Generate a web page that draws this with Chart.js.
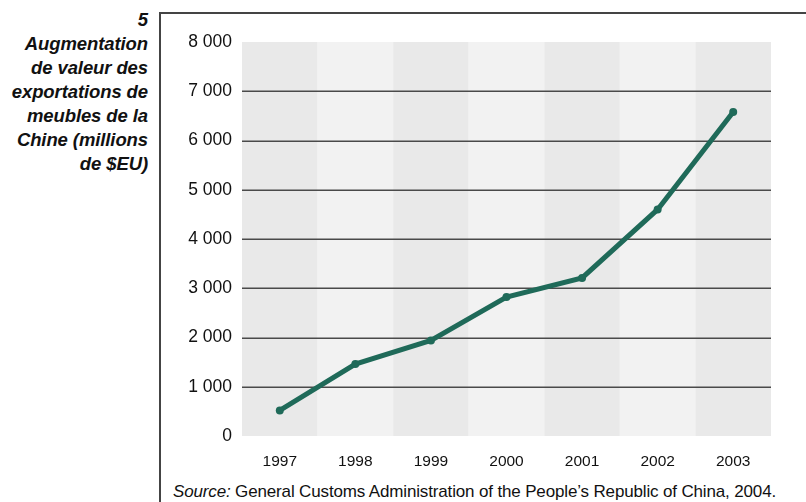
<!DOCTYPE html>
<html>
<head>
<meta charset="utf-8">
<script src="https://cdn.jsdelivr.net/npm/chart.js@4"></script>
<style>
  html, body { margin: 0; padding: 0; background: #fff; }
  #wrap { position: relative; width: 806px; height: 502px; overflow: hidden; font-family: "Liberation Sans", Arial, sans-serif; }
  #frame { position: absolute; left: 159px; top: 12px; width: 700px; height: 600px; border-left: 2px solid #444; border-top: 2px solid #444; box-sizing: border-box; }
  #title { position: absolute; right: 658px; top: 8px; text-align: right; font-weight: bold; font-style: italic; font-size: 18.5px; line-height: 24px; color: #111; white-space: nowrap; letter-spacing: -0.1px; }
  #source { position: absolute; left: 173px; top: 482px; font-size: 17px; color: #111; white-space: nowrap; letter-spacing: -0.15px; }
  canvas { position: absolute; left: 0; top: 0; }
</style>
</head>
<body>
<div id="wrap">
  <div id="frame"></div>
  <div id="title">5<br>Augmentation<br>de valeur des<br>exportations de<br>meubles de la<br>Chine (millions<br>de $EU)</div>
  <div id="source"><i>Source:</i> General Customs Administration of the People’s Republic of China, 2004.</div>
  <canvas id="c" width="806" height="502"></canvas>
</div>
<script>
const years = ["1997", "1998", "1999", "2000", "2001", "2002", "2003"];
const exportValues = [520, 1460, 1940, 2820, 3210, 4600, 6580];
const yTicks = [0, 1000, 2000, 3000, 4000, 5000, 6000, 7000, 8000];

const fmt = v => String(v).replace(/\B(?=(\d{3})+(?!\d))/g, " ");

const columnBands = {
  id: "columnBands",
  beforeDatasetsDraw(chart) {
    const { ctx, chartArea, scales } = chart;
    const x = scales.x;
    const n = years.length;
    const w = (chartArea.right - chartArea.left) / n;
    ctx.save();
    for (let i = 0; i < n; i++) {
      const c = x.getPixelForValue(i);
      ctx.fillStyle = i % 2 === 0 ? "#e9e9e9" : "#f2f2f2";
      ctx.fillRect(c - w / 2, chartArea.top, w, chartArea.bottom - chartArea.top);
    }
    const y = scales.y;
    ctx.strokeStyle = "#4a4a4a";
    ctx.lineWidth = 1.5;
    yTicks.forEach(v => {
      if (v === 0 || v === 8000) return;
      const py = Math.round(y.getPixelForValue(v)) + 0.25;
      ctx.beginPath();
      ctx.moveTo(chartArea.left, py);
      ctx.lineTo(chartArea.right, py);
      ctx.stroke();
    });
    ctx.restore();
  }
};

new Chart(document.getElementById("c"), {
  type: "line",
  data: {
    labels: years,
    datasets: [{
      data: exportValues,
      borderColor: "#1f6a59",
      backgroundColor: "#1f6a59",
      borderWidth: 5,
      pointRadius: 4,
      pointHoverRadius: 4,
      pointBorderWidth: 0,
      tension: 0,
      fill: false
    }]
  },
  options: {
    responsive: false,
    animation: false,
    devicePixelRatio: 1,
    layout: { padding: { top: 42, right: 35, bottom: 0, left: 0 } },
    plugins: { legend: { display: false }, tooltip: { enabled: false } },
    scales: {
      x: {
        type: "category",
        offset: true,
        grid: { display: false, drawTicks: false },
        border: { display: false },
        ticks: { padding: 16, color: "#111", font: { family: "Liberation Sans", size: 15.5 }, maxRotation: 0 },
        afterFit(s) { s.height = 66; }
      },
      y: {
        min: 0, max: 8000,
        afterBuildTicks(s) { s.ticks = yTicks.map(v => ({ value: v })); },
        grid: { display: false, drawTicks: false },
        border: { display: false },
        ticks: { padding: 10, color: "#111", font: { family: "Liberation Sans", size: 17.5 }, callback: v => fmt(v) },
        afterFit(s) { s.width = 242; }
      }
    }
  },
  plugins: [columnBands]
});
</script>
</body>
</html>
